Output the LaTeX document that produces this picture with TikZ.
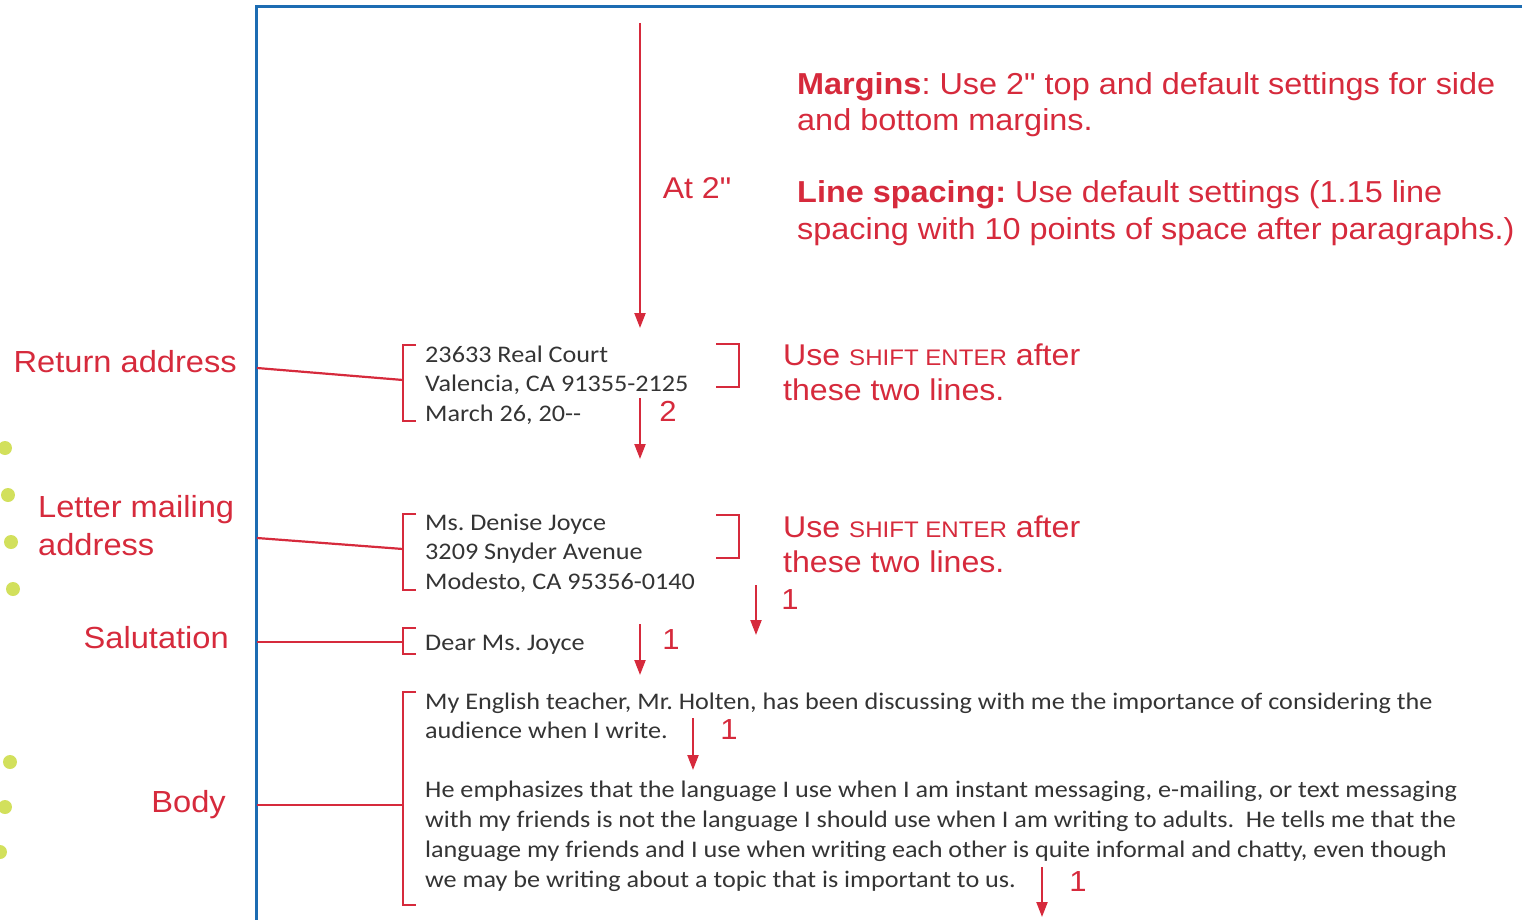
\documentclass[tikz,border=0pt]{standalone}
\usepackage{fontspec}
\setmainfont{Liberation Sans}
\newfontfamily\annfont[FakeStretch=1.07]{Liberation Sans}
\newfontfamily\letterfont[FakeStretch=1.1]{Carlito}
\usetikzlibrary{arrows.meta}
\definecolor{annred}{RGB}{214,42,60}
\definecolor{pageblue}{RGB}{28,108,178}
\definecolor{dotgreen}{RGB}{210,224,92}
\definecolor{lettergray}{RGB}{52,52,52}
\frenchspacing
\begin{document}
\begin{tikzpicture}[x=1pt,y=-1pt,
  lbl/.style={text=annred, font=\annfont\fontsize{30.5}{38}\selectfont, inner sep=0pt, align=left},
  note/.style={text=annred, font=\annfont\fontsize{30.3}{36.5}\selectfont, inner sep=0pt, align=left, anchor=base west},
  num/.style={text=annred, font=\annfont\fontsize{29}{34}\selectfont, inner sep=0pt, anchor=base},
  ltr/.style={text=lettergray, font=\letterfont\fontsize{23.8}{29.5}\selectfont, inner sep=0pt, align=left, anchor=base west},
  brk/.style={draw=annred, line width=2.4pt},
  conn/.style={draw=annred, line width=2.2pt},
  arr/.style={draw=annred, line width=2.2pt, -{Triangle[length=15pt,width=11pt]}},
  page/.style={draw=pageblue, line width=3pt},
  gdot/.style={fill=dotgreen, draw=none}]
\useasboundingbox (0,0) rectangle (1522,920);

% page edge
\draw[page] (256,922) -- (256,7) -- (1524,7);

% green dots
\foreach \x/\y in {5/448, 8/495, 11/542, 13/589, 10/762, 5/807, 0/852}
  \fill[gdot] (\x,\y) circle (7);

% top notes (anchored at baseline of last line)
\node[note] (margins) at (797,131) {\textbf{Margins}: Use 2" top and default settings for side\\and bottom margins.};
\node[note] (spacing) at (797,239.5) {\textbf{Line spacing:} Use default settings (1.15 line\\spacing with 10 points of space after paragraphs.)};

% 2 inch arrow
\coordinate (topA) at (640,23);
\coordinate (topB) at (640,328);
\draw[arr] (topA) -- (topB);
\node[num, font=\annfont\fontsize{30}{36}\selectfont] (at2) at (697,199) {At 2"};

% return address
\node[ltr] (ret) at (425,421) {23633 Real Court\\Valencia, CA 91355-2125\\March 26, 20--};
\draw[brk] (416,345) -- (403,345) -- (403,421) -- (416,421);
\coordinate (retB) at (403,380);
\coordinate (retE) at (257,368);
\node[lbl, anchor=base east] (retL) at (237,372) {Return address};
\draw[conn] (retE) -- (retB);
\draw[brk] (716,344) -- (739,344) -- (739,387) -- (716,387);
\node[note, font=\annfont\fontsize{30}{35}\selectfont] (shift1) at (783,400) {Use {\fontsize{22.5}{35}\selectfont SHIFT ENTER} after\\these two lines.};
\coordinate (a2s) at (640,398);
\coordinate (a2e) at (640,459);
\draw[arr] (a2s) -- (a2e);
\node[num] (n2) at (668,421) {2};

% mailing address
\node[ltr] (mail) at (425,589) {Ms. Denise Joyce\\3209 Snyder Avenue\\Modesto, CA 95356-0140};
\draw[brk] (416,514) -- (403,514) -- (403,590) -- (416,590);
\coordinate (mailB) at (403,549);
\coordinate (mailE) at (257,538);
\node[lbl, anchor=base west] (mailL) at (38,555) {Letter mailing\\address};
\draw[conn] (mailE) -- (mailB);
\draw[brk] (716,515) -- (739,515) -- (739,558) -- (716,558);
\node[note, font=\annfont\fontsize{30}{35}\selectfont] (shift2) at (783,572) {Use {\fontsize{22.5}{35}\selectfont SHIFT ENTER} after\\these two lines.};
\coordinate (m1s) at (756,585);
\coordinate (m1e) at (756,635);
\draw[arr] (m1s) -- (m1e);
\node[num] (n1a) at (790,609) {1};

% salutation
\node[ltr] (sal) at (425,650) {Dear Ms. Joyce};
\draw[brk] (416,628) -- (403,628) -- (403,654) -- (416,654);
\coordinate (salB) at (403,642);
\coordinate (salE) at (257,642);
\node[lbl, anchor=base east] (salL) at (229,648) {Salutation};
\draw[conn] (salE) -- (salB);
\coordinate (s1s) at (640,624);
\coordinate (s1e) at (640,675);
\draw[arr] (s1s) -- (s1e);
\node[num] (n1b) at (671,649) {1};

% body
\node[ltr] (body1) at (425,738.5) {My English teacher, Mr. Holten, has been discussing with me the importance of considering the\\audience when I write.};
\node[ltr, font=\letterfont\fontsize{23.8}{30}\selectfont] (body2) at (425,887.5) {He emphasizes that the language I use when I am instant messaging, e-mailing, or text messaging\\with my friends is not the language I should use when I am writing to adults.\ \ He tells me that the\\language my friends and I use when writing each other is quite informal and chatty, even though\\we may be writing about a topic that is important to us.};
\draw[brk] (416,692) -- (403,692) -- (403,905) -- (416,905);
\coordinate (bodyB) at (403,805);
\coordinate (bodyE) at (257,805);
\node[lbl, anchor=base east] (bodyL) at (226,812) {Body};
\draw[conn] (bodyE) -- (bodyB);
\coordinate (b1s) at (693,718);
\coordinate (b1e) at (693,770);
\draw[arr] (b1s) -- (b1e);
\node[num] (n1c) at (729,739) {1};
\coordinate (b2s) at (1042,867);
\coordinate (b2e) at (1042,917);
\draw[arr] (b2s) -- (b2e);
\node[num] (n1d) at (1078,891) {1};
\end{tikzpicture}
\end{document}
